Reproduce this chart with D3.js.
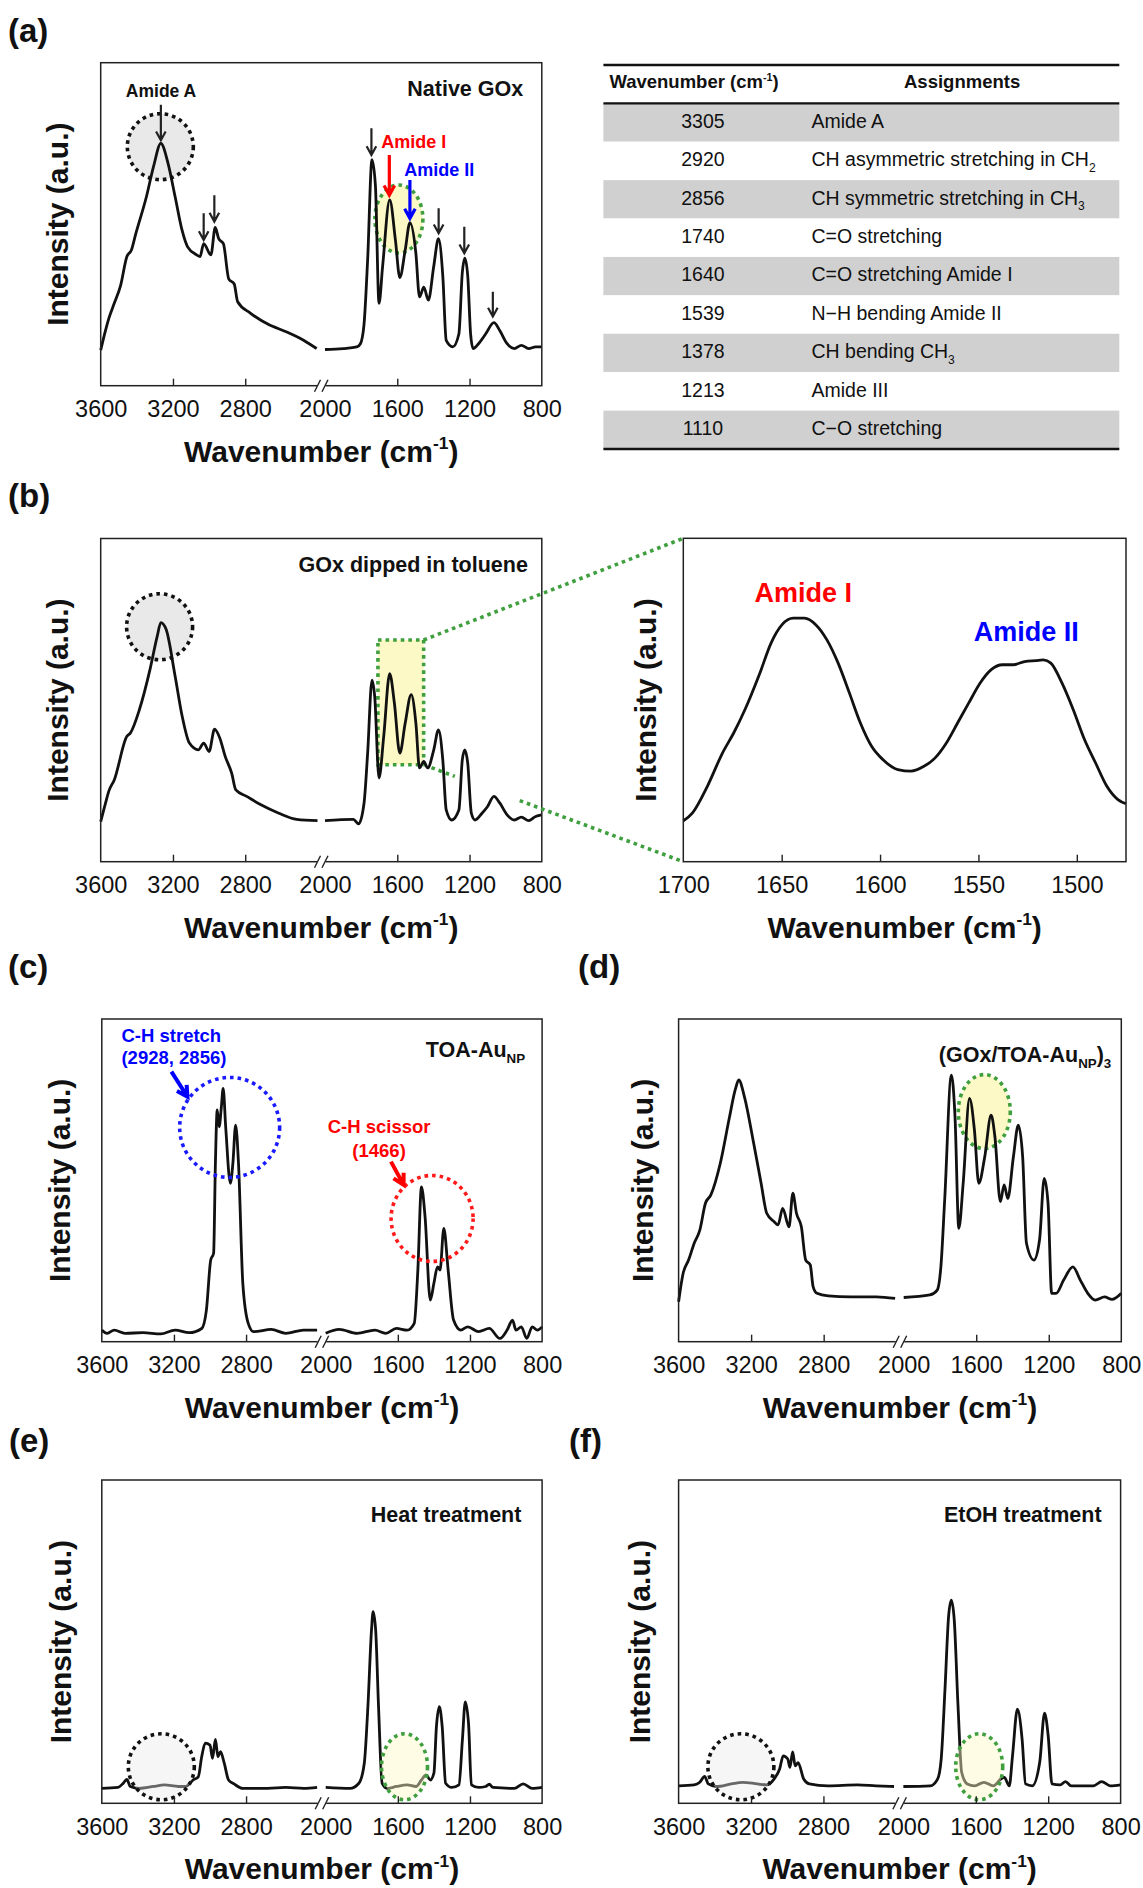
<!DOCTYPE html>
<html>
<head>
<meta charset="utf-8">
<title>FT-IR spectra</title>
<script src="https://cdn.jsdelivr.net/npm/d3@7"></script>
<style>
  body { margin: 0; background: #fff; }
  svg text { font-family: "Liberation Sans", Arial, Helvetica, sans-serif; }
</style>
</head>
<body>
<svg id="fig" width="1143" height="1888"></svg>
<script>
// spectra: [wavenumber (cm-1), intensity (% of frame height)]
const aHigh = [[3600,11],[3574,17],[3554,21],[3525,25.5],[3490,31],[3455,40],[3430,42],[3406,47],[3347,58.5],[3307,68],[3267,75],[3228,69],[3188,58.5],[3149,48],[3119,43],[3069,40.5],[3050,40],[3030,44],[2990,40.5],[2966,49],[2947,45.5],[2921,44],[2891,33],[2861,31.5],[2842,26],[2772,22.5],[2673,19],[2574,16.7],[2475,14],[2405,11.5]];
const aLow = [[2000,11.2],[1900,11.5],[1824,12],[1804,13],[1784,19],[1764,39],[1740,70],[1721,62],[1701,25.5],[1681,37],[1642,57.5],[1610,45],[1586,33.5],[1556,42],[1530,50.5],[1497,41],[1477,27.5],[1453,30.5],[1428,26.5],[1398,37],[1372,45.5],[1348,34],[1329,14],[1293,12],[1259,16],[1240,35],[1226,39.5],[1210,34],[1194,16],[1180,11.5],[1150,13],[1111,16],[1065,19.5],[1032,17],[992,13],[952,11.5],[913,12.5],[873,11.5],[834,12],[800,12]];

const bHigh = [[3600,12.4],[3574,18],[3554,22],[3525,25.3],[3455,38.8],[3436,39.8],[3386,47],[3327,59.5],[3287,69.8],[3267,74],[3238,71.9],[3188,57.4],[3149,45],[3109,36.7],[3059,34.6],[3030,36.7],[3000,34.1],[2970,41],[2941,38.3],[2911,32.6],[2875,27.4],[2852,22.2],[2792,20.2],[2713,17.6],[2614,15],[2515,13.1],[2400,12.7]];
const bLow = [[2000,12.7],[1843,13.1],[1814,11.7],[1784,18.1],[1764,33.6],[1740,56.2],[1725,51.2],[1701,25.9],[1675,38.8],[1642,58.2],[1616,49.1],[1586,33.6],[1556,42.9],[1523,51.7],[1497,42.9],[1477,29],[1453,31],[1432,29],[1398,34.6],[1372,40.8],[1348,31.5],[1329,16],[1299,12.9],[1259,16],[1240,31.5],[1226,34.6],[1210,30.5],[1190,15],[1170,12.9],[1131,15],[1101,17],[1065,20.2],[1032,18.1],[992,14.5],[952,12.9],[913,13.8],[873,12.7],[834,14],[800,14.5]];
const bZoom = [[1700,12.6],[1695.3,15.1],[1687.7,23.4],[1680.1,33.6],[1674.4,39.8],[1668.7,47],[1661.1,58.3],[1655.4,67.6],[1649.8,73.3],[1644.1,75.3],[1638.4,75.3],[1632.7,73.3],[1627,68.6],[1621.3,61.4],[1615.6,52.2],[1610,42.9],[1604.3,35.7],[1598.6,31.6],[1591,28.5],[1584.3,28],[1577.7,29.5],[1572,32.1],[1566.3,36.7],[1560.6,42.9],[1554.9,49.1],[1549.2,55.2],[1543.5,59.4],[1537.8,60.9],[1532.2,60.9],[1526.5,61.9],[1520.8,62.2],[1517,62.4],[1513.2,61.4],[1507.5,55.2],[1501.8,47],[1496.1,37.8],[1490.5,30.6],[1484.8,23.4],[1479.1,19.2],[1475,17.9]];

const cHigh = [[3600,3.6],[3570,2.6],[3531,3.6],[3471,2.6],[3372,2.8],[3273,2.4],[3194,3.6],[3115,2.8],[3046,4.1],[3020,9.8],[2996,25.3],[2980,27.4],[2970,55.3],[2960,71.8],[2949,66.6],[2937,72.8],[2927,78.5],[2913,66.6],[2887,49.1],[2873,55.3],[2858,67.1],[2842,55.3],[2818,18.1],[2788,5.7],[2758,3.1],[2660,3.8],[2580,2.6],[2481,3.6],[2406,3.6]];
const cLow = [[2000,2.6],[1925,3.8],[1826,2.6],[1727,3.6],[1667,2.6],[1608,4.1],[1548,3.6],[1509,5.7],[1489,22.2],[1469,48],[1449,38.7],[1420,12.9],[1400,18.1],[1380,23.2],[1366,22.2],[1345,35.1],[1321,22.2],[1291,6.7],[1251,3.6],[1212,4.6],[1152,3.1],[1093,4.1],[1034,1],[994,3.6],[964,6.7],[945,3.6],[915,4.6],[885,1],[855,4.6],[826,3.6],[800,4.6]];

const dHigh = [[3600,12.4],[3575,21.2],[3545,25.3],[3514,30.5],[3483,34.6],[3452,42.9],[3422,45.5],[3370,55.3],[3319,69.7],[3288,78],[3268,81.1],[3237,75.9],[3186,61.5],[3145,49.1],[3114,39.8],[3073,37.2],[3052,36.2],[3026,41.3],[2991,35.6],[2970,46],[2950,39.8],[2923,35.6],[2899,25.3],[2874,23.8],[2858,17],[2837,15],[2775,14.2],[2652,13.9],[2509,13.9],[2406,13.4]];
const dLow = [[2000,13.7],[1856,14.5],[1815,16],[1795,23.2],[1774,43.9],[1737,82.6],[1717,69.7],[1696,35.1],[1672,49.1],[1637,75.4],[1610,65.6],[1586,49.1],[1553,57.3],[1518,70.2],[1497,63.5],[1467,43.4],[1446,48.6],[1426,44.4],[1395,57.3],[1368,67.1],[1344,57.3],[1323,30.5],[1282,25.3],[1251,31.5],[1225,50.6],[1204,42.9],[1184,15],[1159,15],[1118,19.1],[1067,23.2],[1026,19.1],[985,15],[944,12.9],[892,13.9],[851,13.1],[800,15]];

const eHigh = [[3600,4.6],[3511,4.9],[3481,6.2],[3461,7.4],[3442,5.2],[3392,4.6],[3313,5.2],[3253,5.7],[3174,5.2],[3135,5.2],[3095,7.2],[3065,8.2],[3046,14.4],[3026,18.6],[3000,18],[2986,13.9],[2970,19.8],[2956,14.4],[2942,16],[2921,12.4],[2897,7.2],[2867,6],[2818,4.6],[2679,4.6],[2580,4.9],[2481,4.6],[2406,4.9]];
const eLow = [[2000,4.9],[1865,4.6],[1816,6.2],[1786,12.4],[1766,29.9],[1746,53.6],[1737,59.3],[1723,53.6],[1707,29.9],[1687,6.2],[1657,4.6],[1608,5.2],[1548,5.7],[1499,5.2],[1469,7.2],[1444,8.8],[1420,7.2],[1400,9.3],[1386,23.7],[1370,29.9],[1354,23.7],[1335,6.2],[1301,4.9],[1261,5.7],[1242,19.6],[1226,31.4],[1208,24.7],[1192,5.7],[1152,4.9],[1113,5.2],[1093,5.9],[1073,4.9],[954,4.6],[905,6],[855,4.6],[800,4.9]];

const fHigh = [[3600,5.4],[3514,5.7],[3483,6.5],[3456,8.3],[3436,6],[3391,5.2],[3309,6],[3247,6.5],[3165,6],[3114,5.7],[3073,7.5],[3042,10.6],[3022,14.7],[2997,13.7],[2985,11.1],[2970,15.9],[2956,11.6],[2940,12.6],[2909,7.5],[2878,6],[2775,5.4],[2611,5.7],[2509,5.4],[2410,5.2]];
const fLow = [[2000,5.2],[1852,5.4],[1811,7.5],[1791,13.7],[1770,35.3],[1750,57.9],[1735,62.8],[1719,56.8],[1698,30.1],[1678,9.6],[1647,6],[1606,5.4],[1555,6.5],[1503,5.4],[1462,7.5],[1442,8],[1415,5.4],[1397,14.7],[1370,29.1],[1344,19.8],[1325,6],[1288,5.4],[1247,12.6],[1220,27.9],[1200,20.9],[1179,6],[1134,5.7],[1104,6.7],[1073,5.4],[950,5.4],[905,6.7],[857,5.4],[800,5.7]];

// axes
const wideTicks = [3600, 3200, 2800, 2000, 1600, 1200, 800];
const zoomTicks = [1700, 1650, 1600, 1550, 1500];
const zoomDomain = [1700, 1475];

// table (a)
const tableWavenumbers = [3305, 2920, 2856, 1740, 1640, 1539, 1378, 1213, 1110];
const tableAssignments = ['Amide A', 'CH asymmetric stretching in CH_2', 'CH symmetric stretching in CH_3',
  'C=O stretching', 'C=O stretching Amide I', 'N\u2212H bending Amide II', 'CH bending CH_3', 'Amide III', 'C\u2212O stretching'];

// annotation arrows in panel (a): [wavenumber, from, to] (intensity units)
const aPeakArrows = [[3267, 87, 76], [3030, 53.4, 45.1], [2971, 59, 50.8], [1743, 79.7, 71.4], [1371, 54.9, 47.2], [1229, 49.2, 41], [1071, 29.1, 21.4]];
const aAmideIArrow = [1644, 71.4, 59];
const aAmideIIArrow = [1530, 63.7, 51.8];

const svg = d3.select('#fig');
svg.append('rect').attr('width', 1143).attr('height', 1888).attr('fill', '#fff');

const gap = 7.5;
const ink = '#111';

// text with sub/superscript parts
function rich(sel, parts, fs) {
  let shift = 0;
  parts.forEach(([t, mode]) => {
    let target = 0, size = fs;
    if (mode === 'sub') { target = fs * 0.3; size = fs * 0.62; }
    if (mode === 'sup') { target = -fs * 0.42; size = fs * 0.58; }
    sel.append('tspan').attr('dy', target - shift).attr('font-size', size).text(t);
    shift = target;
  });
  return sel;
}

function arrow(g, x1, y1, x2, y2, color, sw, hl) {
  const a = Math.atan2(y2 - y1, x2 - x1);
  const p = ang => [x2 - hl * Math.cos(a + ang), y2 - hl * Math.sin(a + ang)];
  const l = p(0.5), r = p(-0.5);
  g.append('path')
    .attr('d', `M${x1},${y1}L${x2},${y2}M${l}L${x2},${y2}L${r}`)
    .attr('fill', 'none').attr('stroke', color).attr('stroke-width', sw);
}

const wnTitle = [['Wavenumber (cm'], ['-1', 'sup'], [')']];

function makePanel(box, o) {
  const w = box.x1 - box.x0, h = box.y1 - box.y0;
  const g = svg.append('g').attr('transform', `translate(${box.x0},${box.y0})`);
  const seg = (w - gap) / 2;
  const x = o.zoom
    ? d3.scaleLinear().domain(zoomDomain).range([0, w])
    : d3.scaleLinear().domain([3600, 2400, 2000, 800]).range([0, seg, seg + gap, w]);
  const y = d3.scaleLinear().domain([0, 100]).range([h, 0]);

  const under = g.append('g');
  const line = d3.line().x(d => x(d[0])).y(d => y(d[1])).curve(d3.curveMonotoneX);
  g.append('g').selectAll('path').data(o.series).join('path')
    .attr('d', line).attr('fill', 'none').attr('stroke', ink)
    .attr('stroke-width', 2.8).attr('stroke-linejoin', 'round');
  const over = g.append('g');

  g.append('rect').attr('width', w).attr('height', h)
    .attr('fill', 'none').attr('stroke', '#222').attr('stroke-width', 1.5);

  const ax = g.append('g').attr('transform', `translate(0,${h})`)
    .call(d3.axisBottom(x).tickValues(o.zoom ? zoomTicks : wideTicks).tickFormat(d3.format('d'))
      .tickSizeInner(-7).tickSizeOuter(0).tickPadding(15));
  ax.select('.domain').remove();
  const dom = x.domain();
  ax.selectAll('.tick line').attr('stroke', '#222').attr('stroke-width', 1.4)
    .filter(d => d === dom[0] || d === dom[dom.length - 1] || (!o.zoom && d === 2000)).remove();
  ax.selectAll('.tick text').attr('font-size', 23.5).attr('fill', ink);

  if (!o.zoom) {
    // axis break
    g.append('rect').attr('x', seg - 0.5).attr('y', h - 2.5).attr('width', gap + 1).attr('height', 5).attr('fill', '#fff');
    [seg, seg + gap].forEach(bx => {
      g.append('line').attr('x1', bx - 3).attr('y1', h + 6).attr('x2', bx + 3).attr('y2', h - 6)
        .attr('stroke', '#222').attr('stroke-width', 1.4);
    });
  }

  rich(g.append('text').attr('x', w / 2).attr('y', h + 76).attr('text-anchor', 'middle')
    .attr('font-weight', 'bold').attr('fill', ink), wnTitle, 30);
  g.append('text').attr('transform', `translate(${-o.yOff},${h / 2}) rotate(-90)`)
    .attr('text-anchor', 'middle').attr('font-size', 30).attr('font-weight', 'bold')
    .attr('fill', ink).text('Intensity (a.u.)');

  if (o.name) {
    rich(g.append('text').attr('x', w - o.nameRight).attr('y', o.nameBase).attr('text-anchor', 'end')
      .attr('font-weight', 'bold').attr('fill', ink), o.name, 21.5);
  }
  svg.append('text').attr('x', o.label[1]).attr('y', o.label[2]).attr('font-size', 33)
    .attr('font-weight', 'bold').attr('fill', ink).text(o.label[0]);
  return { g, under, over, x, y, w, h, box };
}

const dotted = (sel, color) => sel.attr('stroke', color).attr('stroke-width', 3.6).attr('stroke-dasharray', '3.6 4');
const grayFill = '#e9e9e9', yellowFill = '#fcf9c6', green = '#3f9f3f';

// ---------- (a)
const pa = makePanel({ x0: 100.7, x1: 541.8, y0: 62.7, y1: 385.7 },
  { series: [aHigh, aLow], yOff: 33, name: [['Native GOx']], nameRight: 18.6, nameBase: 33.3, label: ['(a)', 8, 42] });
dotted(pa.under.append('ellipse').attr('cx', pa.x(3270)).attr('cy', pa.y(74)).attr('rx', 33).attr('ry', 33).attr('fill', grayFill), ink);
dotted(pa.under.append('ellipse').attr('cx', pa.x(1591)).attr('cy', pa.y(51.6)).attr('rx', 24).attr('ry', 34).attr('fill', yellowFill), green);
aPeakArrows.forEach(([wn, v1, v2]) => arrow(pa.over, pa.x(wn), pa.y(v1), pa.x(wn), pa.y(v2), '#222', 2.2, 10));
arrow(pa.over, pa.x(aAmideIArrow[0]), pa.y(aAmideIArrow[1]), pa.x(aAmideIArrow[0]), pa.y(aAmideIArrow[2]), '#ff0000', 3.2, 11);
arrow(pa.over, pa.x(aAmideIIArrow[0]), pa.y(aAmideIIArrow[1]), pa.x(aAmideIIArrow[0]), pa.y(aAmideIIArrow[2]), '#0000ff', 3.2, 11);
pa.over.append('text').attr('x', pa.x(3266)).attr('y', pa.y(89.5)).attr('text-anchor', 'middle')
  .attr('font-size', 17.5).attr('font-weight', 'bold').attr('fill', ink).text('Amide A');
pa.over.append('text').attr('x', pa.x(1688)).attr('y', pa.y(73.5))
  .attr('font-size', 18).attr('font-weight', 'bold').attr('fill', '#ff0000').text('Amide I');
pa.over.append('text').attr('x', pa.x(1561)).attr('y', pa.y(65))
  .attr('font-size', 18).attr('font-weight', 'bold').attr('fill', '#0000ff').text('Amide II');

// ---------- table
const tbl = svg.append('g');
const tx0 = 603.4, tx1 = 1119.3;
const rowY = d3.scaleBand().domain(d3.range(tableWavenumbers.length)).range([103.3, 449]);
tbl.selectAll('rect.row').data(tableWavenumbers).join('rect').attr('class', 'row')
  .attr('x', tx0).attr('width', tx1 - tx0).attr('y', (d, i) => rowY(i)).attr('height', rowY.bandwidth())
  .attr('fill', (d, i) => i % 2 === 0 ? '#d0d0d0' : '#fff');
tbl.selectAll('text.num').data(tableWavenumbers).join('text').attr('class', 'num')
  .attr('x', 702.9).attr('y', (d, i) => rowY(i) + 24.4).attr('text-anchor', 'middle')
  .attr('font-size', 19.5).attr('fill', ink).text(d => d);
tbl.selectAll('text.asg').data(tableAssignments).join('text').attr('class', 'asg')
  .attr('x', 811.5).attr('y', (d, i) => rowY(i) + 24.4).attr('font-size', 19.5).attr('fill', ink)
  .each(function (d) {
    const parts = d.split(/_(\d)/).map((t, i) => [t, i % 2 ? 'sub' : null]).filter(p => p[0] !== '');
    rich(d3.select(this), parts, 19.5);
  });
rich(tbl.append('text').attr('x', 609.4).attr('y', 88.3).attr('font-weight', 'bold').attr('fill', ink), wnTitle, 18.5);
tbl.append('text').attr('x', 962.1).attr('y', 88.3).attr('text-anchor', 'middle').attr('font-size', 18.5)
  .attr('font-weight', 'bold').attr('fill', ink).text('Assignments');
[[65, 2.6], [103.3, 2.2], [449, 2.6]].forEach(([ly, lw]) => {
  tbl.append('line').attr('x1', tx0).attr('x2', tx1).attr('y1', ly).attr('y2', ly)
    .attr('stroke', ink).attr('stroke-width', lw);
});

// ---------- (b)
const pb = makePanel({ x0: 100.7, x1: 541.8, y0: 538.5, y1: 861.7 },
  { series: [bHigh, bLow], yOff: 33, name: [['GOx dipped in toluene']], nameRight: 13.9, nameBase: 33.2, label: ['(b)', 8, 507] });
dotted(pb.under.append('ellipse').attr('cx', pb.x(3274)).attr('cy', pb.y(72.7)).attr('rx', 33).attr('ry', 33).attr('fill', grayFill), ink);
const rectWn = [1707, 1454], rectV = [68.6, 30];
dotted(pb.under.append('rect').attr('x', pb.x(rectWn[0])).attr('y', pb.y(rectV[0]))
  .attr('width', pb.x(rectWn[1]) - pb.x(rectWn[0])).attr('height', pb.y(rectV[1]) - pb.y(rectV[0]))
  .attr('fill', yellowFill), green);

const pz = makePanel({ x0: 683.3, x1: 1126, y0: 538.3, y1: 861.7 },
  { zoom: true, series: [bZoom], yOff: 27, label: ['', 0, 0] });
pz.over.append('text').attr('x', pz.x(1639)).attr('y', pz.y(80.4)).attr('text-anchor', 'middle')
  .attr('font-size', 27).attr('font-weight', 'bold').attr('fill', '#ff0000').text('Amide I');
pz.over.append('text').attr('x', pz.x(1525.7)).attr('y', pz.y(68.3)).attr('text-anchor', 'middle')
  .attr('font-size', 27).attr('font-weight', 'bold').attr('fill', '#0000ff').text('Amide II');

// connectors from the highlighted box to the zoomed panel
const rTop = [pb.box.x0 + pb.x(rectWn[1]), pb.box.y0 + pb.y(rectV[0])];
const rBot = [pb.box.x0 + pb.x(rectWn[1]), pb.box.y0 + pb.y(rectV[1])];
const zTop = [pz.box.x0, pz.box.y0], zBot = [pz.box.x0, pz.box.y1];
const seg = (p, q, t0, t1) => svg.append('line')
  .attr('x1', p[0] + (q[0] - p[0]) * t0).attr('y1', p[1] + (q[1] - p[1]) * t0)
  .attr('x2', p[0] + (q[0] - p[0]) * t1).attr('y2', p[1] + (q[1] - p[1]) * t1);
dotted(seg(rTop, zTop, 0, 1), green);
dotted(seg(rBot, zBot, 0.03, 0.12), green);
dotted(seg(rBot, zBot, 0.37, 1), green);

// ---------- (c)
const pc = makePanel({ x0: 101.8, x1: 542.1, y0: 1019, y1: 1341.7 },
  { series: [cHigh, cLow], yOff: 32, name: [['TOA-Au'], ['NP', 'sub']], nameRight: 17, nameBase: 37.7, label: ['(c)', 8, 978] });
dotted(pc.over.append('ellipse').attr('cx', pc.x(2891)).attr('cy', pc.y(66.4)).attr('rx', 50).attr('ry', 50).attr('fill', 'none'), '#1a1aff');
dotted(pc.over.append('ellipse').attr('cx', pc.x(1410)).attr('cy', pc.y(38.2)).attr('rx', 41).attr('ry', 43).attr('fill', 'none'), '#ff1a1a');
[['C-H stretch', 93], ['(2928, 2856)', 86]].forEach(([t, v]) => {
  pc.over.append('text').attr('x', pc.x(3491)).attr('y', pc.y(v)).attr('font-size', 18.5)
    .attr('font-weight', 'bold').attr('fill', '#0000ff').text(t);
});
[['C-H scissor', 64.6], ['(1466)', 57.3]].forEach(([t, v]) => {
  pc.over.append('text').attr('x', pc.x(1704)).attr('y', pc.y(v)).attr('text-anchor', 'middle')
    .attr('font-size', 18.5).attr('font-weight', 'bold').attr('fill', '#ff0000').text(t);
});
arrow(pc.over, pc.x(3214), pc.y(83.7), pc.x(3125), pc.y(75.9), '#0000ff', 4, 12);
arrow(pc.over, pc.x(1638), pc.y(55.8), pc.x(1568), pc.y(48.6), '#ff0000', 4, 12);

// ---------- (d)
const pd = makePanel({ x0: 678.6, x1: 1121.3, y0: 1019, y1: 1341.7 },
  { series: [dHigh, dLow], yOff: 25.5, name: [['(GOx/TOA-Au'], ['NP', 'sub'], [')'], ['3', 'sub']], nameRight: 10, nameBase: 42.7, label: ['(d)', 578, 978] });
dotted(pd.under.append('ellipse').attr('cx', pd.x(1555.5)).attr('cy', pd.y(71.3)).attr('rx', 26).attr('ry', 37).attr('fill', yellowFill), green);

// ---------- (e)
const pe = makePanel({ x0: 101.8, x1: 542.1, y0: 1480, y1: 1803.3 },
  { series: [eHigh, eLow], yOff: 31, name: [['Heat treatment']], nameRight: 20.7, nameBase: 41.7, label: ['(e)', 9, 1451.6] });
dotted(pe.over.append('ellipse').attr('cx', pe.x(3270)).attr('cy', pe.y(11.3)).attr('rx', 33).attr('ry', 33).attr('fill', grayFill).attr('fill-opacity', 0.4), ink);
dotted(pe.over.append('ellipse').attr('cx', pe.x(1563)).attr('cy', pe.y(11.3)).attr('rx', 23).attr('ry', 33).attr('fill', yellowFill).attr('fill-opacity', 0.45), green);

// ---------- (f)
const pf = makePanel({ x0: 678.6, x1: 1120.6, y0: 1480, y1: 1803.3 },
  { series: [fHigh, fLow], yOff: 28.5, name: [['EtOH treatment']], nameRight: 19, nameBase: 41.7, label: ['(f)', 569, 1451.6] });
dotted(pf.over.append('ellipse').attr('cx', pf.x(3256)).attr('cy', pf.y(11.3)).attr('rx', 33).attr('ry', 33).attr('fill', grayFill).attr('fill-opacity', 0.4), ink);
dotted(pf.over.append('ellipse').attr('cx', pf.x(1581)).attr('cy', pf.y(11.3)).attr('rx', 23.5).attr('ry', 33).attr('fill', yellowFill).attr('fill-opacity', 0.45), green);
</script>
</body>
</html>
